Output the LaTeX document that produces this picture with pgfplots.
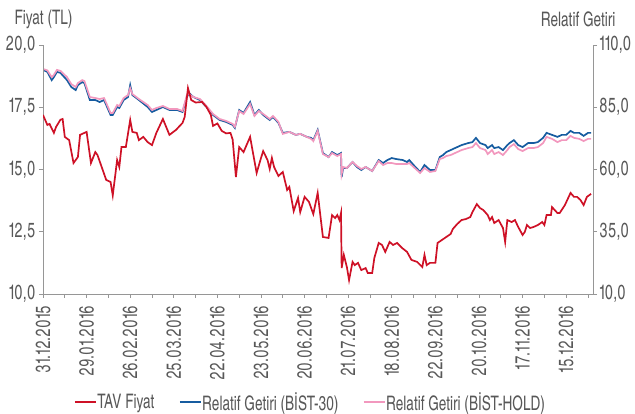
\documentclass[border=0pt]{standalone}
\usepackage{fontspec}
\setmainfont{texgyreheroscn}[Extension=.otf, UprightFont=*-regular, BoldFont=*-bold, FakeStretch=0.83]
\newfontfamily\tickfam{texgyreheroscn}[Extension=.otf, UprightFont=*-regular, BoldFont=*-bold, FakeStretch=0.84, Numbers=Proportional]
\usepackage{pgfplots}
\pgfplotsset{compat=1.18}
\definecolor{tavred}{RGB}{206,17,38}
\definecolor{bistblue}{RGB}{22,92,160}
\definecolor{bistpink}{RGB}{242,152,190}
\definecolor{txtgray}{RGB}{88,88,88}
\definecolor{axgray}{RGB}{150,150,150}
\newcommand{\fs}{\fontsize{20}{22}\selectfont}
\newcommand{\tfs}{\tickfam\fontsize{20.5}{23}\selectfont}
\begin{document}
\begin{tikzpicture}
\path[use as bounding box] (0pt,0pt) rectangle (635pt,414pt);
\pgfplotsset{
  base/.style={
    at={(43pt,120pt)}, anchor=south west, scale only axis,
    width=550pt, height=249pt,
    xmin=0, xmax=252.3,
    tick align=outside,
    major tick length=4pt, minor tick length=4pt,
    tick style={axgray, line width=0.8pt},
    axis line style={axgray, line width=0.9pt},
    tick label style={font=\tfs, text=txtgray},
    /pgf/number format/.cd, fixed, fixed zerofill, precision=1, use comma, assume math mode=true,
  },
}
% right axis: relative returns
\begin{axis}[base,
  axis x line=none,
  axis y line*=right,
  ymin=10, ymax=110,
  ytick={10,35,60,85,110},
  yticklabel style={xshift=-1.5pt},
]
\addplot[bistblue, line width=1.7pt] coordinates {
(0,100.0)(2,99.2)(4,95.9)(5,97.1)(6.4,99.2)(8,98.8)(11,95.9)(13,93.1)(15,91.9)(16,93.9)
(18,95.1)(19,94.7)(21.5,87.9)(24,87.9)(26,87.1)(28,87.9)(31,81.9)(32,81.9)(34,85.1)(35,84.7)
(37,87.9)(39,89.1)(40,93.9)(41,89.9)(44,87.9)(48,85.1)(50,83.1)(52,83.9)(55,85.1)(58,83.9)
(61.5,83.9)(64,83.1)(66,89.1)(67,90.7)(69,89.1)(72,87.9)(75,85.1)(78,81.9)(81,79.9)(84,79.1)
(87,77.9)(88,76.7)(90,83.9)(92,82.7)(95,87.1)(97,81.9)(99,83.9)(101,81.9)(104,79.9)(105.5,81.1)
(108,78.7)(110,74.7)(113,75.1)(116,73.9)(118,74.3)(121,73.1)(123,72.7)(124,71.8)(126,75.9)
(128.4,66.6)(131,65.0)(132.6,67.0)(135,65.8)(136.7,66.6)(137,57.0)(137.7,60.6)(139.4,60.6)
(142,63.0)(144,61.0)(146,59.8)(148,61.0)(151,59.4)(154,63.8)(156,62.6)(158,63.8)(160,64.6)
(162,64.2)(165,63.8)(167,63.0)(168,63.8)(170,61.8)(173,59.0)(175,61.8)(177.5,59.8)(180,59.8)
(182,65.0)(183.5,65.8)(185,67.0)(187,67.8)(189,68.6)(192,69.8)(195,70.6)(197,71.0)(198.6,72.7)
(200.5,70.6)(203,69.8)(204,68.6)(206,69.8)(207,68.6)(209,69.0)(211,67.8)(213,69.8)(214,70.6)
(216,71.8)(218,69.8)(220,69.0)(222.5,70.6)(225,70.6)(227,71.0)(229.4,72.7)(231,74.7)(233.5,73.9)
(236,73.1)(238,73.9)(240,73.9)(242,75.5)(243.6,74.7)(246,74.7)(248,73.5)(250,74.7)(251.4,74.7)
};
\addplot[bistpink, line width=1.7pt] coordinates {
(0,100.4)(2,99.8)(4,97.1)(5,98.0)(6.4,100.0)(8,99.6)(11,97.1)(13,94.3)(15,93.1)(16,94.7)
(18,95.9)(19,95.5)(21.5,89.1)(24,88.7)(26,88.3)(28,88.7)(31,82.7)(32,82.7)(34,85.9)(35,85.5)
(37,88.7)(39,89.9)(40,92.7)(41,90.3)(44,88.3)(48,85.9)(50,83.9)(52,84.7)(55,85.5)(58,84.3)
(61.5,84.3)(64,83.5)(66,89.9)(67,90.3)(69,89.1)(72,88.3)(75,85.5)(78,82.3)(81,80.3)(84,79.5)
(87,78.3)(88,77.1)(90,83.5)(92,82.3)(95,86.3)(97,81.5)(99,83.5)(101,82.3)(104,80.3)(105.5,81.5)
(108,79.1)(110,74.3)(113,75.1)(116,73.9)(118,74.3)(121,73.1)(123,72.3)(124,71.4)(126,75.5)
(128.4,66.2)(131,65.0)(132.6,66.6)(135,65.4)(136.7,66.2)(137,58.2)(137.7,61.0)(139.4,60.6)
(142,63.0)(144,61.4)(146,60.2)(148,61.0)(151,59.4)(154,63.4)(156,61.8)(158,62.6)(160,62.6)
(162,62.2)(165,62.2)(167,62.2)(168,62.6)(170,61.0)(173,58.6)(175,60.6)(177.5,59.0)(180,59.4)
(182,64.2)(183.5,64.6)(185,65.4)(187,65.8)(189,66.6)(192,67.8)(195,68.6)(197,69.0)(198.6,70.6)
(200.5,68.6)(203,67.8)(204,66.2)(206,67.8)(207,66.2)(209,67.0)(211,65.8)(213,67.8)(214,69.0)
(216,70.2)(218,68.2)(220,67.4)(222.5,68.6)(225,68.6)(227,69.0)(229.4,70.6)(231,73.1)(233.5,72.3)
(236,71.0)(238,71.8)(240,71.8)(242,73.5)(243.6,72.7)(246,72.3)(248,71.4)(250,72.3)(251.4,72.3)
};
\end{axis}
% left axis: price
\begin{axis}[base,
  axis x line*=bottom,
  axis y line*=left,
  ymin=10, ymax=20,
  ytick={10,12.5,15,17.5,20},
  xtick={0,20,...,240},
  minor xtick={10,30,...,250},
  xticklabels={31.12.2015,29.01.2016,26.02.2016,25.03.2016,22.04.2016,23.05.2016,20.06.2016,21.07.2016,18.08.2016,22.09.2016,20.10.2016,17.11.2016,15.12.2016},
  xticklabel style={rotate=90, anchor=east},
  xticklabel shift=4pt,
  legend style={at={(0.485,-0.434)}, anchor=center, draw=none, fill=none,
    legend columns=-1, font=\fs, text=txtgray,
    /tikz/every even column/.append style={column sep=24pt},
    nodes={inner xsep=0.5pt}},
  legend image code/.code={\draw[#1, line width=1.7pt] (0pt,0pt) -- (21pt,0pt);},
]
\addplot[tavred, line width=1.7pt] coordinates {
(0,17.19)(2,16.79)(3,16.83)(5,16.47)(6,16.71)(8,17.0)(9,17.03)(10,16.31)(12,16.18)(14,15.26)
(16,15.50)(17,16.39)(20,16.51)(22,15.26)(24,15.70)(25,15.58)(29,14.58)(31,14.50)(32,13.96)(34,15.38)
(35,15.10)(36,15.90)(38,15.90)(40,16.99)(41,16.51)(43,16.47)(44,16.18)(46,16.31)(48,16.10)(50,15.98)
(52,16.47)(55,17.03)(58,16.39)(61,16.59)(64,16.87)(65,17.11)(66.5,18.27)(68,17.79)(70,17.69)(73,17.71)
(75,17.51)(77,17.19)(78,16.75)(80,16.85)(82,16.55)(84,16.45)(86,16.47)(87,16.2)(88.5,14.70)(90,15.90)
(92,15.70)(95,16.31)(98,14.86)(100,15.46)(101,15.74)(103,15.38)(104,15.02)(105,15.46)(106,15.10)(108,14.74)
(110,14.90)(112,14.18)(113,14.30)(115,13.33)(117,13.86)(118,13.29)(120,13.90)(122,13.70)(124,13.21)(126,14.06)
(128.4,12.29)(131,12.25)(132.6,13.17)(134,13.05)(135,13.17)(136,12.97)(136.7,13.25)(137,11.04)(138,11.57)(139.4,11.08)
(140.4,10.56)(142,11.29)(143,11.16)(144.5,11.25)(146,10.96)(148,11.04)(149,10.84)(151,10.84)(152,11.45)(154,12.05)
(155.5,11.97)(157,11.69)(159,12.09)(160.6,11.97)(162.4,12.05)(164.7,11.85)(167,11.69)(169,11.37)(171.6,11.29)(174,11.08)
(175,11.57)(176,11.16)(177.5,11.25)(180,11.25)(181,12.05)(183,12.17)(185,12.29)(187,12.41)(188,12.61)(190,12.81)
(192,12.97)(194,13.01)(196,13.09)(197,13.29)(199,13.61)(200.5,13.45)(202,13.37)(204,13.17)(205,12.97)(206,13.09)
(207,12.85)(209,12.97)(211,12.65)(212,12.09)(213,12.97)(215,12.89)(216.5,12.97)(218,12.69)(220,12.37)(221,12.49)
(222,12.77)(223.4,12.65)(225,12.69)(227,12.77)(229,12.89)(230,12.77)(231,13.17)(233,13.17)(233.5,13.49)(236,13.25)
(237,13.25)(239.4,13.57)(242,14.06)(243.6,13.90)(245,13.90)(246.5,13.78)(248,13.57)(249.5,13.90)(251.4,14.02)
};
\addlegendentry{TAV Fiyat}
\addlegendimage{bistblue}
\addlegendentry{Relatif Getiri (BİST-30)}
\addlegendimage{bistpink}
\addlegendentry{Relatif Getiri (BİST-HOLD)}
\end{axis}
\node[anchor=west, font=\fs, text=txtgray] at (11pt,395pt) {Fiyat (TL)};
\node[anchor=east, font=\fs, text=txtgray] at (619pt,395pt) {Relatif Getiri};
\end{tikzpicture}
\end{document}
